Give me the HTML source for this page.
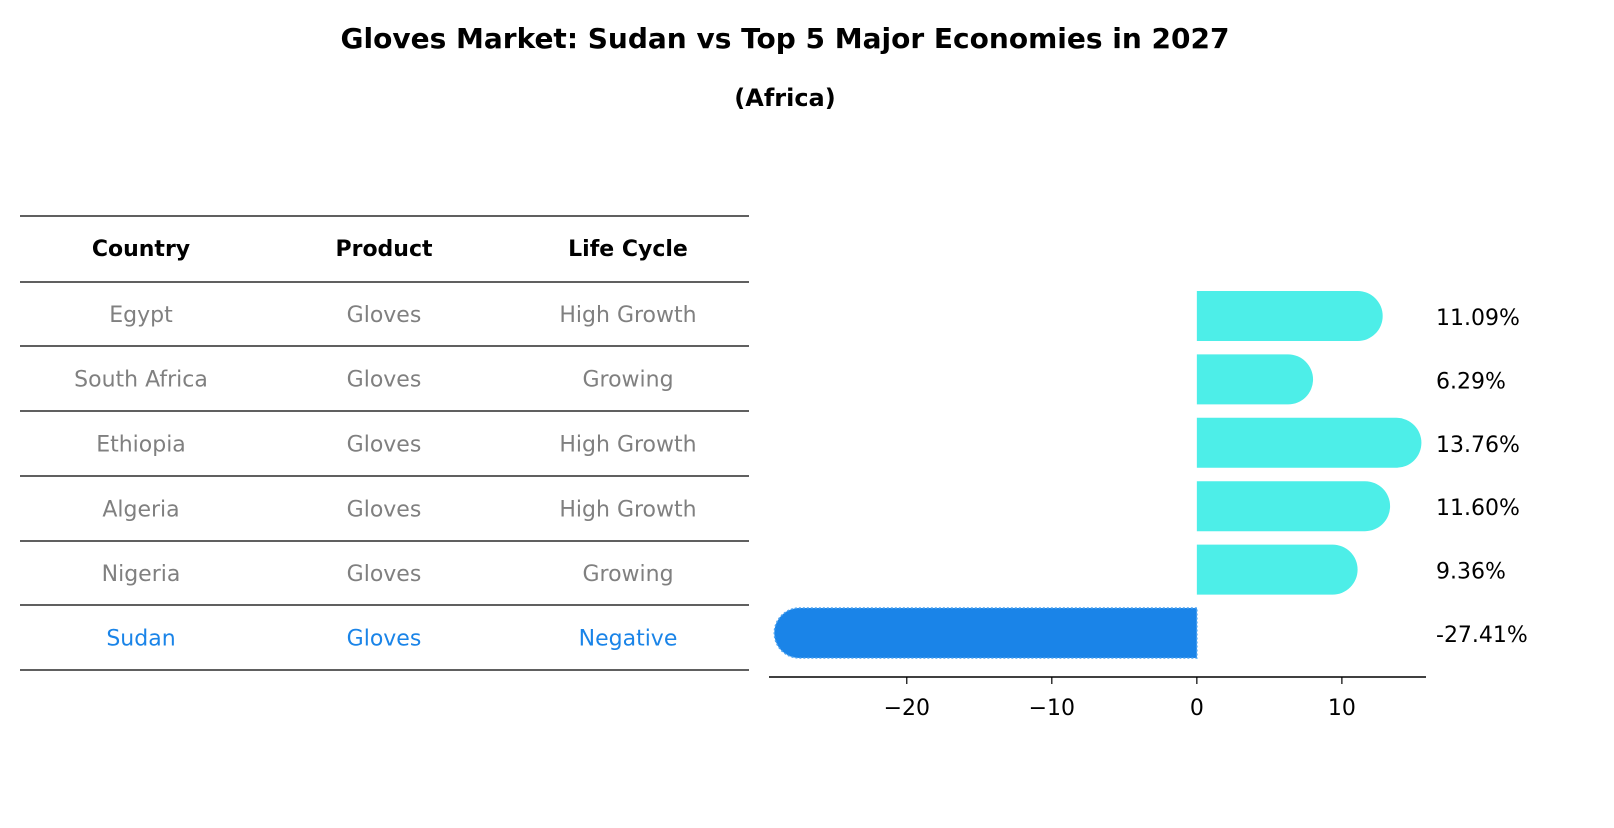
<!DOCTYPE html>
<html><head><meta charset="utf-8"><style>
body{margin:0;background:#fff;font-family:"Liberation Sans","DejaVu Sans",sans-serif;}
svg text{font-family:"DejaVu Sans","Liberation Sans",sans-serif;}
</style></head><body>
<svg id="c" width="1614" height="823" viewBox="0 0 1614 823" xmlns="http://www.w3.org/2000/svg">
<text x="785" y="48" text-anchor="middle" font-size="28" font-weight="bold">Gloves Market: Sudan vs Top 5 Major Economies in 2027</text>
<text x="785" y="106" text-anchor="middle" font-size="24" font-weight="bold">(Africa)</text>
<g id="table"></g>
<g id="bars"></g>
</svg>
<script>
const countries=["Egypt","South Africa","Ethiopia","Algeria","Nigeria","Sudan"];
const products=["Gloves","Gloves","Gloves","Gloves","Gloves","Gloves"];
const lifecycle=["High Growth","Growing","High Growth","High Growth","Growing","Negative"];
const values=[11.09,6.29,13.76,11.60,9.36,-27.41];
const ticks=[-20,-10,0,10];
const NS="http://www.w3.org/2000/svg";
function mk(t,a,p,txt){const e=document.createElementNS(NS,t);for(const k in a)e.setAttribute(k,a[k]);if(txt!==undefined)e.textContent=txt;p.appendChild(e);return e;}
const tb=document.getElementById('table');
const lineYs=[216,282,346,411,476,541,605,670];
lineYs.forEach((y,i)=>{const l=mk('line',{x1:20,x2:749,y1:y,y2:y,stroke:'#000','stroke-width':1.2},tb);

});
const cx=[141,384,628];
["Country","Product","Life Cycle"].forEach((h,j)=>{const t=mk('text',{x:cx[j],y:256,'text-anchor':'middle','font-size':22,'font-weight':'bold'},tb,h);

});
countries.forEach((c,i)=>{const y=(lineYs[i+1]+lineYs[i+2])/2+8;const col=c==="Sudan"?'#1a84e8':'#808080';
[c,products[i],lifecycle[i]].forEach((v,j)=>{const t=mk('text',{x:cx[j],y:y,'text-anchor':'middle','font-size':22,fill:col},tb,v);

});});
const bg=document.getElementById('bars');
const x0=-29.5,x1=15.8,px0=769,px1=1426;
const X=v=>px0+(v-x0)/(x1-x0)*(px1-px0);
const rowY=i=>316+i*63.4;
const bh=50,r=25;
values.forEach((v,i)=>{const y=rowY(i);const xa=X(0),xb=X(v);const neg=v<0;
const col=neg?'#1a84e8':'#4deee8';
let d;
if(!neg)d=`M${xa},${y-bh/2} L${xb},${y-bh/2} A${r},${r} 0 0 1 ${xb},${y+bh/2} L${xa},${y+bh/2} Z`;
else d=`M${xa},${y-bh/2} L${xb},${y-bh/2} A${r},${r} 0 0 0 ${xb},${y+bh/2} L${xa},${y+bh/2} Z`;
const p=mk('path',{d:d,fill:col},bg);
if(neg){p.setAttribute('stroke','#4da3f0');p.setAttribute('stroke-dasharray','2 2');p.setAttribute('stroke-width','1.5');}


const t=mk('text',{x:1436,y:y+9,'font-size':22},bg,v.toFixed(2)+'%');

});
const ax=mk('line',{x1:px0,x2:px1,y1:677,y2:677,stroke:'#000','stroke-width':1.5},bg);


ticks.forEach(t=>{const x=X(t);const l=mk('line',{x1:x,x2:x,y1:677,y2:684,stroke:'#000','stroke-width':1.2},bg);


const tx=mk('text',{x:x,y:715,'text-anchor':'middle','font-size':22},bg,t<0?'\u2212'+Math.abs(t):String(t));

});
</script>
</body></html>
